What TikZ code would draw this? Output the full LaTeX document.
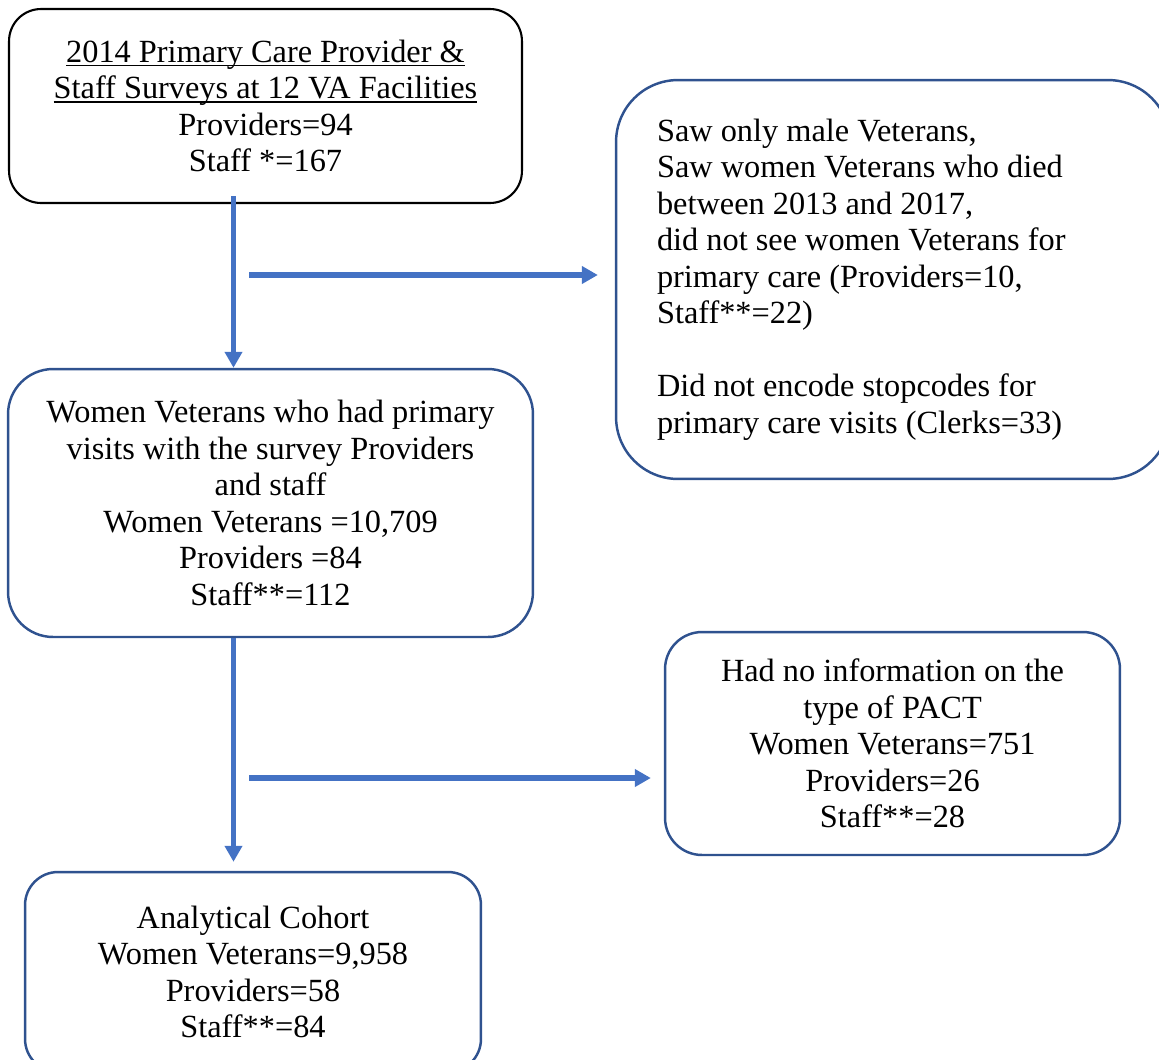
\documentclass[tikz,border=0pt]{standalone}
\usepackage{fontspec}
\setmainfont{Liberation Serif}
\usepackage{tikz}
\usetikzlibrary{arrows.meta}

\definecolor{flowblue}{HTML}{4472C4}
\definecolor{edgeblue}{HTML}{2F528F}
\newcommand{\ulline}[1]{\setbox0\hbox{#1}\rlap{\rule[-2.4pt]{\wd0}{1pt}}\box0}

\begin{document}
\begin{tikzpicture}[x=0.02cm,y=-0.02cm,
  box/.style={draw=edgeblue,line width=1.4pt,align=center,
    font=\fontsize{18.4}{20.8}\selectfont},
  flow/.style={draw=flowblue,line width=3.1pt,-{Triangle[length=0.32cm,width=0.34cm]}}]

\useasboundingbox (0,0) rectangle (1159,1059);
\clip (0,0) rectangle (1159,1059);

\node[box,draw=black,line width=1.2pt,minimum width=10.26cm,minimum height=3.88cm,rounded corners=0.64cm] (survey) at (265.5,106)
  {\ulline{2014 Primary Care Provider \&}\\ \ulline{Staff Surveys at 12 VA Facilities}\\ Providers=94\\ Staff *=167};

\node[box,align=flush left,text width=9.44cm,inner xsep=0.82cm,minimum height=7.98cm,rounded corners=1.24cm] (excl1) at (893,279.5)
  {Saw only male Veterans,\\ Saw women Veterans who died\\ between 2013 and 2017,\\ did not see women Veterans for\\ primary care (Providers=10,\\ Staff**=22)\\[20.8pt] Did not encode stopcodes for\\ primary care visits (Clerks=33)};

\node[box,minimum width=10.5cm,minimum height=5.36cm,rounded corners=0.9cm] (visits) at (270.5,503)
  {Women Veterans who had primary\\ visits with the survey Providers\\ and staff\\ Women Veterans =10,709\\ Providers =84\\ Staff**=112};

\node[box,minimum width=9.1cm,minimum height=4.46cm,rounded corners=0.74cm] (excl2) at (892.5,743.5)
  {Had no information on the\\ type of PACT\\ Women Veterans=751\\ Providers=26\\ Staff**=28};

\node[box,minimum width=9.12cm,minimum height=4cm,rounded corners=0.66cm] (cohort) at (253,972)
  {Analytical Cohort\\ Women Veterans=9,958\\ Providers=58\\ Staff**=84};

\coordinate (col) at (233.5,0);
\coordinate (split1) at (249,275);
\coordinate (split2) at (249,778);

\draw[flow,shorten <=-0.16cm] (survey.south -| col) -- (visits.north -| col);
\draw[flow,shorten >=0.34cm] (split1) -- (split1 -| excl1.west);
\draw[flow,shorten >=0.18cm] (visits.south -| col) -- (cohort.north -| col);
\draw[flow,shorten >=0.26cm] (split2) -- (split2 -| excl2.west);

\end{tikzpicture}
\end{document}
